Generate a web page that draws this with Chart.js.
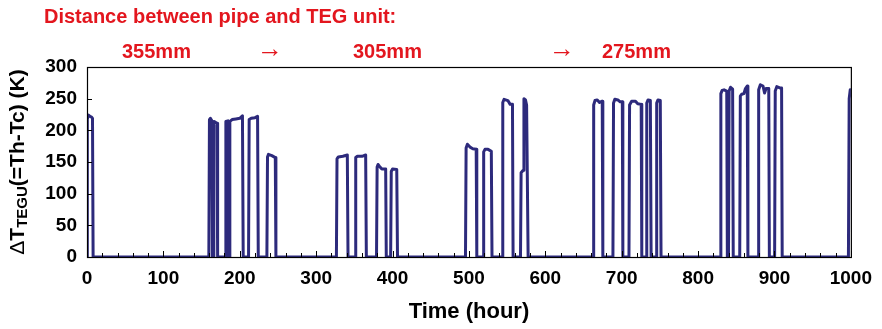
<!DOCTYPE html>
<html>
<head>
  <title>TEG unit temperature difference</title>
  <style>
    body { margin: 0; background: #fff; }
    #wrap { width: 882px; height: 329px; }
  </style>
</head>
<body>
  <div id="wrap"><canvas id="tegChart"></canvas></div>

  <script src="https://cdn.jsdelivr.net/npm/chart.js"></script>
  <script>
    // time (hour) / delta T (K) pairs
    const hours = [
      0, 0.4, 2, 4, 6, 7.2, 8,
      159.5, 160.3, 161.5, 163.5, 164.2, 165.2, 166, 168, 170.2, 171,
      181, 181.8, 184.5, 185.3, 186.2, 187, 190, 195, 200, 203.5, 204.5,
      211.5, 212.3, 215, 220, 223.3, 224.2,
      235.5, 236.3, 237.5, 242, 246.5, 247.3,
      326.5, 327.3, 329, 335, 340.8, 341.7,
      351, 351.8, 354, 360, 364.8, 365.7,
      379, 379.8, 381, 383, 386, 391, 391.8,
      397.5, 398.3, 400, 405.5, 406.5,
      495.5, 496.3, 498, 502, 505, 509.5, 510.3,
      518.5, 519.3, 521, 525, 529.3, 530.2,
      543.5, 544.3, 546, 551, 554, 557, 557.8,
      567.5, 568.3, 571, 572, 574, 575.5, 577.5,
      662.5, 663.3, 665, 668, 671, 674.5, 675.3,
      688.5, 689.3, 691, 695, 698, 700.8, 701.5,
      709.5, 710.3, 713, 718, 721, 725.5, 726.3,
      732, 732.8, 734.5, 737.5, 738.5,
      745, 745.8, 747.5, 750.5, 751.5,
      829, 829.8, 831.5, 834, 837.5, 838.3, 839.8, 840.6, 842.5, 845.2, 846,
      854.5, 855.3, 857, 860, 862, 864.3, 865.2,
      878.5, 879.3, 881.5, 885, 887, 889, 892.5, 893.3,
      900.2, 901, 903, 907, 909.3, 910.1,
      996.8, 997.8, 999.2, 1000
    ];
    const deltaT = [
      0, 218, 224, 222, 221, 219, 0,
      0, 217, 219, 215, 0, 0, 214, 213, 211, 0,
      0, 214, 215, 0, 0, 214, 217, 218, 219, 223, 0,
      0, 217, 219, 220, 222, 0,
      0, 158, 162, 160, 157, 0,
      0, 155, 158, 159, 161, 0,
      0, 157, 159, 159, 161, 0,
      0, 142, 146, 143, 139, 139, 0,
      0, 135, 139, 138, 0,
      0, 172, 178, 173, 171, 170, 0,
      0, 166, 170, 170, 167, 0,
      0, 244, 249, 247, 241, 241, 0,
      0, 133, 137, 250, 248, 240, 0,
      0, 240, 247, 248, 244, 246, 0,
      0, 243, 249, 248, 245, 245, 0,
      0, 240, 246, 246, 242, 241, 0,
      0, 243, 248, 247, 0,
      0, 243, 248, 247, 0,
      0, 258, 263, 264, 262, 0, 0, 262, 268, 265, 0,
      0, 254, 257, 258, 266, 270, 0,
      0, 264, 272, 270, 259, 266, 266, 0,
      0, 262, 269, 267, 267, 0,
      0, 250, 264, 266
    ];

    const xTicks = [0, 100, 200, 300, 400, 500, 600, 700, 800, 900, 1000];
    const yTicks = [0, 50, 100, 150, 200, 250, 300];
    const distances = ['355mm', '305mm', '275mm'];

    const FONT = "'Liberation Sans', Arial, sans-serif";
    const RED = '#e3161e';
    const LINE = '#2d2a7c';

    // inward tick marks, plot frame, axis titles and the red notes
    const decorations = {
      id: 'decorations',
      afterDatasetsDraw(chart) {
        const { ctx, chartArea: a, scales } = chart;
        const xs = scales.x, ys = scales.y;
        ctx.save();
        ctx.strokeStyle = '#000';
        ctx.lineWidth = 1;
        ctx.beginPath();
        yTicks.forEach(v => {
          const y = Math.round(ys.getPixelForValue(v)) + 0.5;
          ctx.moveTo(a.left, y); ctx.lineTo(a.left + 5, y);
        });
        for (let v = xTicks[0]; v <= xTicks[xTicks.length - 1]; v += 20) {
          const x = Math.round(xs.getPixelForValue(v)) + 0.5;
          const len = v % 100 === 0 ? 6 : 4;
          ctx.moveTo(x, a.bottom); ctx.lineTo(x, a.bottom - len);
        }
        ctx.stroke();
        ctx.lineWidth = 1.2;
        ctx.strokeRect(a.left + 0.5, a.top + 0.5, a.right - a.left, a.bottom - a.top);

        // x title
        ctx.fillStyle = '#000';
        ctx.textAlign = 'center';
        ctx.textBaseline = 'middle';
        ctx.font = 'bold 22px ' + FONT;
        ctx.fillText('Time (hour)', (a.left + a.right) / 2, 312);

        // y title with subscript
        const parts = [
          { t: '\u0394', f: '21px ' + FONT, dy: 0 },
          { t: 'T', f: 'bold 21px ' + FONT, dy: 0 },
          { t: 'TEGU', f: 'bold 15px ' + FONT, dy: 5 },
          { t: '(=Th-Tc) (K)', f: 'bold 21px ' + FONT, dy: 0 }
        ];
        let total = 0;
        parts.forEach(p => { ctx.font = p.f; p.w = ctx.measureText(p.t).width; total += p.w; });
        ctx.translate(18, (a.top + a.bottom) / 2);
        ctx.rotate(-Math.PI / 2);
        ctx.textAlign = 'left';
        let px = -total / 2;
        parts.forEach(p => {
          ctx.font = p.f;
          ctx.fillText(p.t, px, p.dy);
          px += p.w;
        });
        ctx.setTransform(1, 0, 0, 1, 0, 0);

        // red notes above the plot
        ctx.fillStyle = RED;
        ctx.textAlign = 'left';
        ctx.font = 'bold 20px ' + FONT;
        ctx.fillText('Distance between pipe and TEG unit:', 44, 17);
        ctx.fillText(distances[0], 122, 52);
        ctx.fillText(distances[1], 353, 52);
        ctx.fillText(distances[2], 602, 52);
        ctx.font = '26px ' + FONT;
        ctx.fillText('\u2192', 257, 50);
        ctx.fillText('\u2192', 549, 50);
        ctx.restore();
      }
    };

    new Chart(document.getElementById('tegChart'), {
      type: 'line',
      data: {
        datasets: [{
          data: hours.map((h, i) => ({ x: h, y: deltaT[i] })),
          borderColor: LINE,
          borderWidth: 3,
          borderJoinStyle: 'round',
          pointRadius: 0,
          tension: 0,
          fill: false
        }]
      },
      options: {
        responsive: true,
        maintainAspectRatio: false,
        animation: false,
        layout: { padding: { top: 67, right: 30, left: 0, bottom: 0 } },
        plugins: { legend: { display: false }, tooltip: { enabled: false } },
        scales: {
          x: {
            type: 'linear',
            min: 0,
            max: 1000,
            afterFit(scale) { scale.height = 72; },
            afterBuildTicks(scale) { scale.ticks = xTicks.map(v => ({ value: v })); },
            grid: { display: false, drawTicks: false },
            border: { display: false },
            ticks: {
              color: '#000',
              padding: 10,
              maxRotation: 0,
              callback: v => String(v),
              font: { family: FONT, size: 19, weight: 'bold' }
            }
          },
          y: {
            min: 0,
            max: 300,
            afterFit(scale) { scale.width = 87; },
            afterBuildTicks(scale) { scale.ticks = yTicks.map(v => ({ value: v })); },
            grid: { display: false, drawTicks: false },
            border: { display: false },
            ticks: {
              color: '#000',
              padding: 10,
              callback: v => String(v),
              font: { family: FONT, size: 19, weight: 'bold' }
            }
          }
        }
      },
      plugins: [decorations]
    });
  </script>
</body>
</html>
